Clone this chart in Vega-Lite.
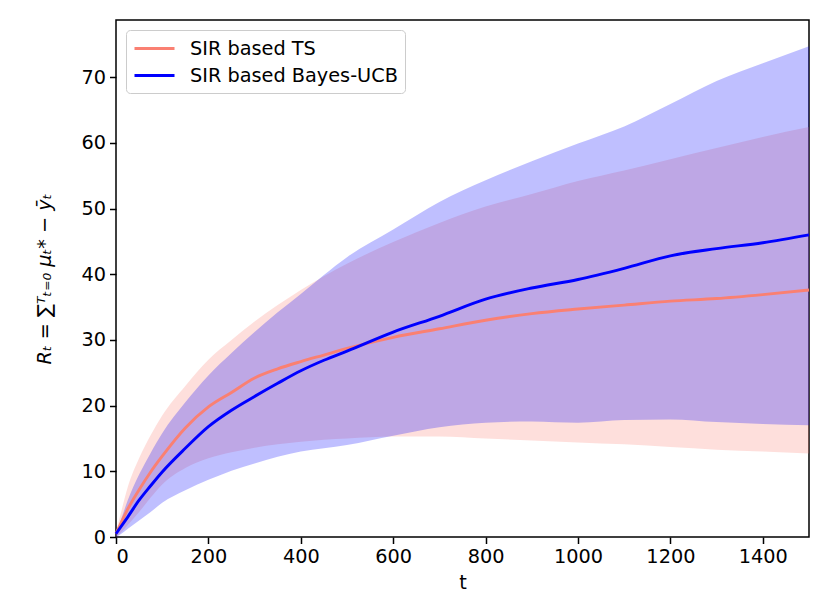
{
  "$schema": "https://vega.github.io/schema/vega-lite/v6.json",
  "description": "Cumulative regret of SIR based TS and SIR based Bayes-UCB with spread bands.",
  "width": 693,
  "height": 517,
  "autosize": {"type": "none"},
  "padding": {"left": 116, "top": 20, "right": 21, "bottom": 73},
  "config": {
    "font": "DejaVu Sans",
    "view": {"stroke": "black", "strokeWidth": 1.5},
    "axis": {
      "domain": false,
      "grid": false,
      "tickColor": "black",
      "tickWidth": 1.5,
      "tickSize": 6.5,
      "labelFontSize": 19.3,
      "labelColor": "black",
      "labelPadding": 4,
      "titleFontSize": 19.3,
      "titleFontWeight": "normal",
      "titleColor": "black"
    }
  },
  "data": {
    "values": [
      {"t": 0, "method": "SIR based TS", "mean": 0.5, "lo": 0, "hi": 0.8},
      {"t": 10, "method": "SIR based TS", "mean": 2.0, "lo": 0.6, "hi": 3.5},
      {"t": 25, "method": "SIR based TS", "mean": 4.2, "lo": 1.8, "hi": 7.5},
      {"t": 50, "method": "SIR based TS", "mean": 7.2, "lo": 3.8, "hi": 12.0},
      {"t": 75, "method": "SIR based TS", "mean": 9.9, "lo": 6.0, "hi": 15.5},
      {"t": 100, "method": "SIR based TS", "mean": 12.3, "lo": 8.0, "hi": 18.5},
      {"t": 150, "method": "SIR based TS", "mean": 16.6, "lo": 10.5, "hi": 23.0},
      {"t": 200, "method": "SIR based TS", "mean": 19.8, "lo": 12.0, "hi": 27.0},
      {"t": 250, "method": "SIR based TS", "mean": 22.0, "lo": 12.9, "hi": 30.0},
      {"t": 300, "method": "SIR based TS", "mean": 24.2, "lo": 13.6, "hi": 32.8},
      {"t": 350, "method": "SIR based TS", "mean": 25.6, "lo": 14.1, "hi": 35.3},
      {"t": 400, "method": "SIR based TS", "mean": 26.7, "lo": 14.5, "hi": 37.6},
      {"t": 450, "method": "SIR based TS", "mean": 27.7, "lo": 14.8, "hi": 39.7},
      {"t": 500, "method": "SIR based TS", "mean": 28.7, "lo": 15.0, "hi": 41.6},
      {"t": 600, "method": "SIR based TS", "mean": 30.4, "lo": 15.3, "hi": 44.9},
      {"t": 700, "method": "SIR based TS", "mean": 31.7, "lo": 15.3, "hi": 47.8},
      {"t": 800, "method": "SIR based TS", "mean": 33.0, "lo": 15.0, "hi": 50.3},
      {"t": 900, "method": "SIR based TS", "mean": 34.0, "lo": 14.7, "hi": 52.2},
      {"t": 1000, "method": "SIR based TS", "mean": 34.7, "lo": 14.4, "hi": 54.2},
      {"t": 1100, "method": "SIR based TS", "mean": 35.3, "lo": 14.1, "hi": 55.8},
      {"t": 1200, "method": "SIR based TS", "mean": 35.9, "lo": 13.7, "hi": 57.5},
      {"t": 1300, "method": "SIR based TS", "mean": 36.3, "lo": 13.3, "hi": 59.2},
      {"t": 1400, "method": "SIR based TS", "mean": 36.9, "lo": 13.0, "hi": 60.9},
      {"t": 1500, "method": "SIR based TS", "mean": 37.6, "lo": 12.7, "hi": 62.4},
      {"t": 0, "method": "SIR based Bayes-UCB", "mean": 0.5, "lo": 0, "hi": 0.7},
      {"t": 10, "method": "SIR based Bayes-UCB", "mean": 1.5, "lo": 0.4, "hi": 2.5},
      {"t": 25, "method": "SIR based Bayes-UCB", "mean": 3.0, "lo": 1.2, "hi": 5.5},
      {"t": 50, "method": "SIR based Bayes-UCB", "mean": 5.6, "lo": 2.5, "hi": 9.5},
      {"t": 75, "method": "SIR based Bayes-UCB", "mean": 7.8, "lo": 3.8, "hi": 12.8},
      {"t": 100, "method": "SIR based Bayes-UCB", "mean": 9.9, "lo": 5.2, "hi": 15.8},
      {"t": 150, "method": "SIR based Bayes-UCB", "mean": 13.5, "lo": 7.1, "hi": 20.5},
      {"t": 200, "method": "SIR based Bayes-UCB", "mean": 16.8, "lo": 8.7, "hi": 24.6},
      {"t": 250, "method": "SIR based Bayes-UCB", "mean": 19.3, "lo": 10.1, "hi": 28.0},
      {"t": 300, "method": "SIR based Bayes-UCB", "mean": 21.4, "lo": 11.2, "hi": 31.2},
      {"t": 350, "method": "SIR based Bayes-UCB", "mean": 23.4, "lo": 12.2, "hi": 34.2},
      {"t": 400, "method": "SIR based Bayes-UCB", "mean": 25.3, "lo": 13.0, "hi": 37.0},
      {"t": 450, "method": "SIR based Bayes-UCB", "mean": 26.9, "lo": 13.5, "hi": 39.9},
      {"t": 500, "method": "SIR based Bayes-UCB", "mean": 28.3, "lo": 14.0, "hi": 42.6},
      {"t": 600, "method": "SIR based Bayes-UCB", "mean": 31.2, "lo": 15.4, "hi": 46.8},
      {"t": 700, "method": "SIR based Bayes-UCB", "mean": 33.6, "lo": 16.7, "hi": 51.0},
      {"t": 800, "method": "SIR based Bayes-UCB", "mean": 36.2, "lo": 17.4, "hi": 54.3},
      {"t": 900, "method": "SIR based Bayes-UCB", "mean": 37.9, "lo": 17.6, "hi": 57.2},
      {"t": 1000, "method": "SIR based Bayes-UCB", "mean": 39.2, "lo": 17.4, "hi": 59.9},
      {"t": 1100, "method": "SIR based Bayes-UCB", "mean": 40.9, "lo": 17.8, "hi": 62.5},
      {"t": 1200, "method": "SIR based Bayes-UCB", "mean": 42.8, "lo": 17.9, "hi": 65.9},
      {"t": 1300, "method": "SIR based Bayes-UCB", "mean": 43.9, "lo": 17.5, "hi": 69.4},
      {"t": 1400, "method": "SIR based Bayes-UCB", "mean": 44.8, "lo": 17.2, "hi": 72.1},
      {"t": 1500, "method": "SIR based Bayes-UCB", "mean": 46.0, "lo": 17.0, "hi": 74.7}
    ]
  },
  "layer": [
    {
      "transform": [{"filter": "datum.method === 'SIR based TS'"}],
      "mark": {"type": "area", "color": "#FA8072", "opacity": 0.25, "interpolate": "monotone"},
      "encoding": {
        "x": {
          "field": "t",
          "type": "quantitative",
          "scale": {"domain": [0, 1500], "nice": false, "zero": false},
          "axis": {"values": [0, 200, 400, 600, 800, 1000, 1200, 1400], "format": "d", "titlePadding": 7},
          "title": "t"
        },
        "y": {
          "field": "lo",
          "type": "quantitative",
          "scale": {"domain": [0, 78.7], "nice": false},
          "axis": {
            "values": [0, 10, 20, 30, 40, 50, 60, 70],
            "titleFontStyle": "italic",
            "titlePadding": 26
          },
          "title": "Rₜ = ∑ᵀₜ₌₀ μₜ* − ȳₜ"
        },
        "y2": {"field": "hi"}
      }
    },
    {
      "transform": [{"filter": "datum.method === 'SIR based Bayes-UCB'"}],
      "mark": {"type": "area", "color": "#0000FF", "opacity": 0.25, "interpolate": "monotone"},
      "encoding": {
        "x": {"field": "t", "type": "quantitative", "title": "t"},
        "y": {"field": "lo", "type": "quantitative", "title": "Rₜ = ∑ᵀₜ₌₀ μₜ* − ȳₜ"},
        "y2": {"field": "hi"}
      }
    },
    {
      "mark": {"type": "line", "strokeWidth": 2.9, "interpolate": "monotone"},
      "encoding": {
        "x": {"field": "t", "type": "quantitative", "title": "t"},
        "y": {"field": "mean", "type": "quantitative", "title": "Rₜ = ∑ᵀₜ₌₀ μₜ* − ȳₜ"},
        "stroke": {
          "field": "method",
          "type": "nominal",
          "scale": {
            "domain": ["SIR based TS", "SIR based Bayes-UCB"],
            "range": ["#FA8072", "#0000FF"]
          },
          "legend": {
            "title": null,
            "orient": "none",
            "legendX": 10,
            "legendY": 10,
            "symbolType": "M-1,0H3",
            "symbolSize": 400,
            "symbolStrokeWidth": 2.9,
            "labelFontSize": 19.3,
            "labelColor": "black",
            "labelOffset": 34,
            "labelLimit": 0,
            "rowPadding": 5,
            "fillColor": "rgba(255,255,255,0.8)",
            "strokeColor": "#cccccc",
            "cornerRadius": 4,
            "padding": 7
          }
        }
      }
    }
  ]
}
